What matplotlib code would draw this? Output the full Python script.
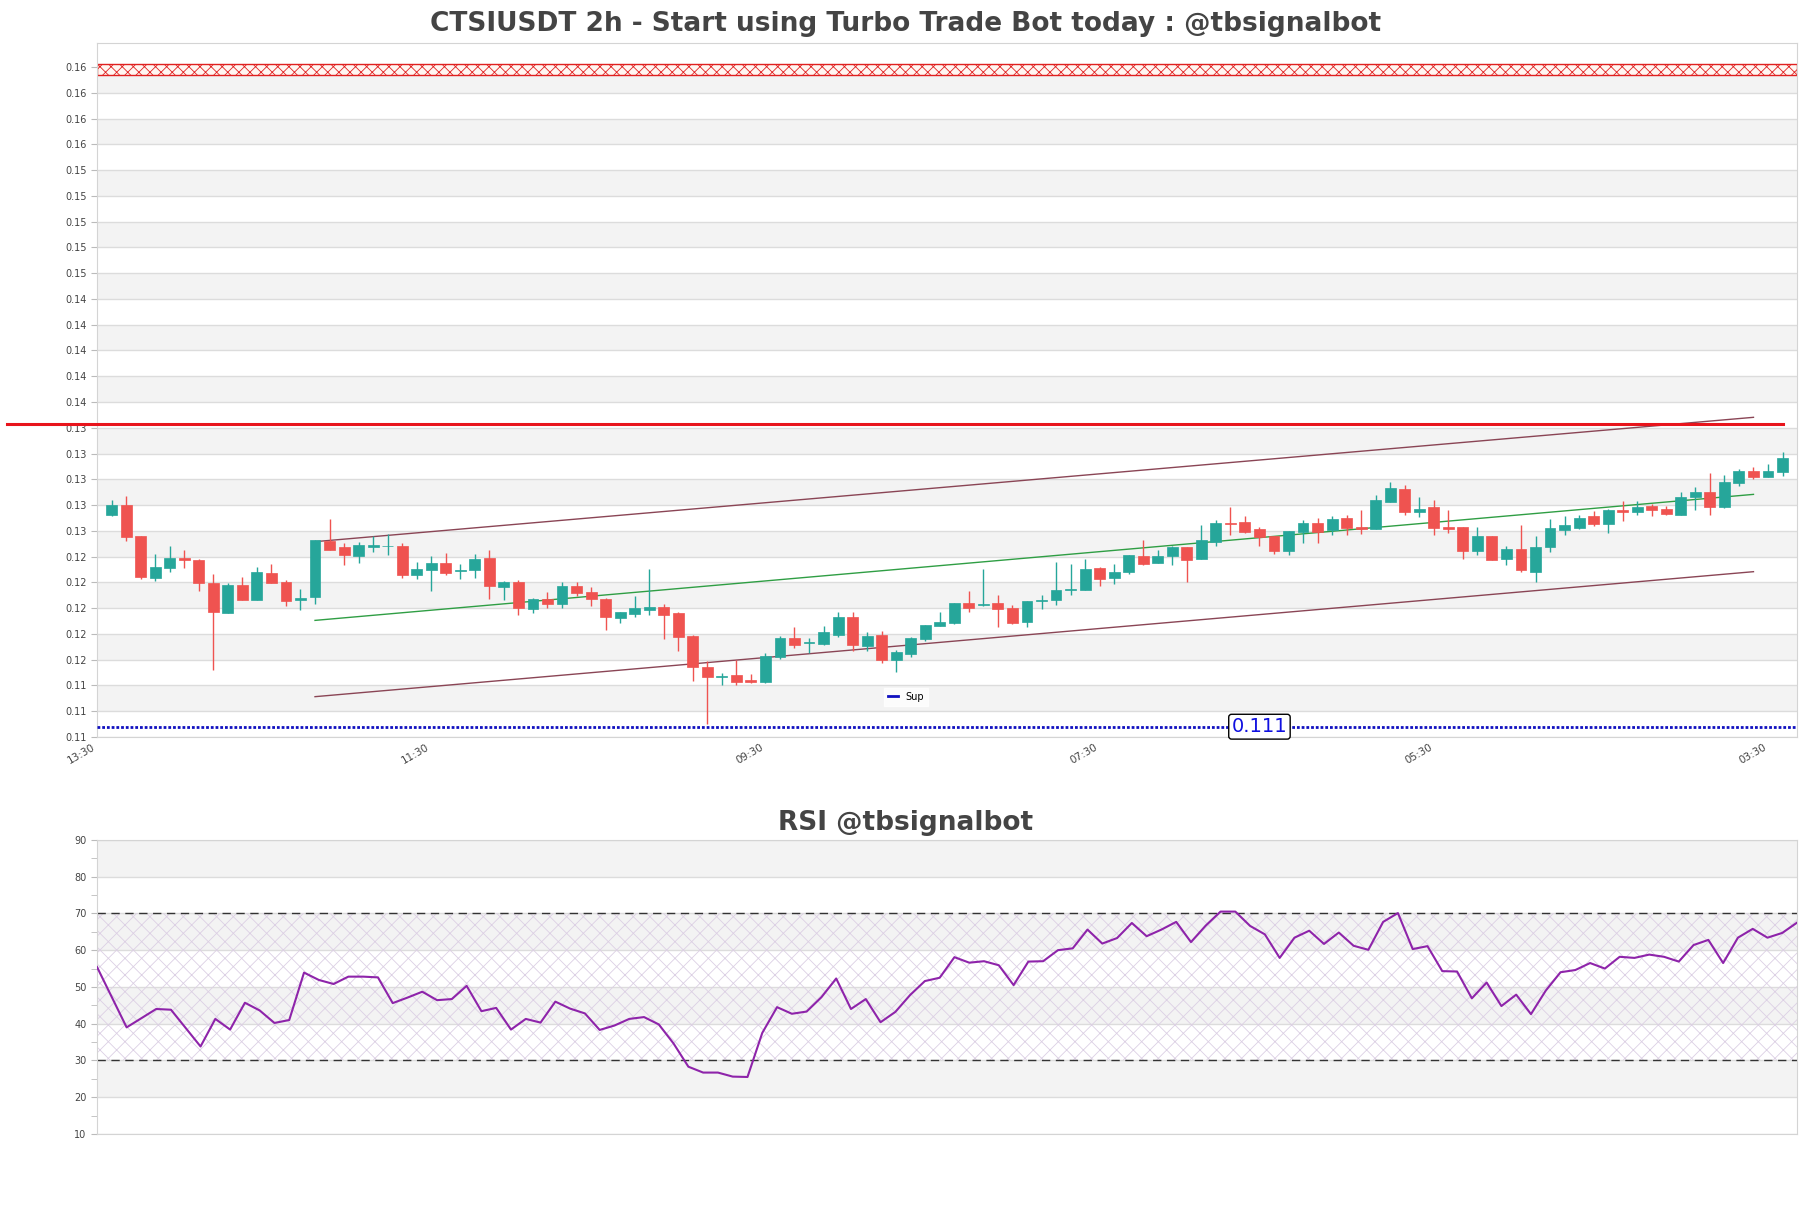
import numpy as np
from matplotlib import pyplot as plt
from matplotlib.patches import Rectangle

# candles, 2h
opens = [0.12743, 0.12818, 0.12577, 0.12257, 0.12334, 0.12407, 0.12394, 0.12215, 0.11985, 0.12200,
         0.12086, 0.12293, 0.12223, 0.12081, 0.12109, 0.12539, 0.12492, 0.12427, 0.12497, 0.12500,
         0.12502, 0.12280, 0.12319, 0.12370, 0.12311, 0.12319, 0.12407, 0.12187, 0.12223, 0.12013,
         0.12091, 0.12052, 0.12192, 0.12145, 0.12091, 0.11946, 0.11977, 0.12008, 0.12029, 0.11982,
         0.11806, 0.11563, 0.11486, 0.11501, 0.11462, 0.11449, 0.11644, 0.11788, 0.11750, 0.11744,
         0.11814, 0.11951, 0.11726, 0.11812, 0.11618, 0.11667, 0.11781, 0.11884, 0.11905, 0.12060,
         0.12044, 0.12060, 0.12021, 0.11913, 0.12076, 0.12086, 0.12164, 0.12164, 0.12332, 0.12257,
         0.12301, 0.12425, 0.12373, 0.12427, 0.12497, 0.12404, 0.12536, 0.12683, 0.12689, 0.12634,
         0.12580, 0.12466, 0.12611, 0.12683, 0.12629, 0.12720, 0.12650, 0.12632, 0.12846, 0.12945,
         0.12769, 0.12805, 0.12650, 0.12650, 0.12466, 0.12580, 0.12404, 0.12479, 0.12301, 0.12497,
         0.12629, 0.12645, 0.12735, 0.12676, 0.12782, 0.12769, 0.12813, 0.12787, 0.12746, 0.12883,
         0.12921, 0.12805, 0.12994, 0.13084, 0.13040, 0.13079]
highs = [0.12857, 0.12890, 0.12577, 0.12438, 0.12500, 0.12469, 0.12399, 0.12282, 0.12213, 0.12259,
         0.12337, 0.12360, 0.12239, 0.12169, 0.12549, 0.12709, 0.12523, 0.12533, 0.12577, 0.12593,
         0.12523, 0.12376, 0.12422, 0.12448, 0.12360, 0.12438, 0.12471, 0.12233, 0.12239, 0.12101,
         0.12143, 0.12223, 0.12223, 0.12184, 0.12101, 0.11990, 0.12114, 0.12324, 0.12050, 0.11993,
         0.11814, 0.11607, 0.11519, 0.11618, 0.11509, 0.11675, 0.11804, 0.11871, 0.11786, 0.11882,
         0.11990, 0.11988, 0.11832, 0.11843, 0.11695, 0.11799, 0.11889, 0.11990, 0.12060, 0.12153,
         0.12324, 0.12125, 0.12042, 0.12076, 0.12122, 0.12376, 0.12363, 0.12399, 0.12337, 0.12360,
         0.12433, 0.12549, 0.12471, 0.12502, 0.12497, 0.12663, 0.12704, 0.12805, 0.12735, 0.12647,
         0.12580, 0.12619, 0.12704, 0.12720, 0.12733, 0.12740, 0.12782, 0.12896, 0.12999, 0.12973,
         0.12880, 0.12857, 0.12782, 0.12650, 0.12650, 0.12580, 0.12502, 0.12663, 0.12580, 0.12712,
         0.12733, 0.12740, 0.12774, 0.12792, 0.12852, 0.12849, 0.12828, 0.12815, 0.12921, 0.12958,
         0.13066, 0.13051, 0.13097, 0.13113, 0.13139, 0.13232]
lows = [0.12735, 0.12544, 0.12249, 0.12233, 0.12303, 0.12334, 0.12156, 0.11540, 0.11985, 0.12081,
        0.12081, 0.12218, 0.12039, 0.12008, 0.12055, 0.12474, 0.12358, 0.12373, 0.12458, 0.12433,
        0.12257, 0.12246, 0.12156, 0.12280, 0.12246, 0.12254, 0.12094, 0.12083, 0.11967, 0.11985,
        0.12024, 0.12024, 0.12114, 0.12037, 0.11850, 0.11907, 0.11954, 0.11969, 0.11781, 0.11690,
        0.11455, 0.11121, 0.11424, 0.11424, 0.11442, 0.11437, 0.11628, 0.11713, 0.11669, 0.11731,
        0.11799, 0.11690, 0.11687, 0.11597, 0.11524, 0.11638, 0.11768, 0.11884, 0.11900, 0.11993,
        0.12039, 0.11876, 0.11900, 0.11876, 0.12016, 0.12047, 0.12125, 0.12164, 0.12194, 0.12210,
        0.12288, 0.12358, 0.12373, 0.12358, 0.12226, 0.12404, 0.12505, 0.12588, 0.12601, 0.12505,
        0.12443, 0.12433, 0.12528, 0.12523, 0.12590, 0.12590, 0.12598, 0.12632, 0.12846, 0.12746,
        0.12730, 0.12590, 0.12606, 0.12404, 0.12435, 0.12391, 0.12358, 0.12303, 0.12226, 0.12458,
        0.12588, 0.12637, 0.12658, 0.12606, 0.12699, 0.12746, 0.12735, 0.12746, 0.12746, 0.12782,
        0.12746, 0.12800, 0.12968, 0.13022, 0.13040, 0.13046]
closes = [0.12818, 0.12575, 0.12262, 0.12339, 0.12409, 0.12396, 0.12215, 0.11993, 0.12200, 0.12086,
          0.12301, 0.12218, 0.12078, 0.12099, 0.12549, 0.12474, 0.12433, 0.12508, 0.12510, 0.12505,
          0.12280, 0.12324, 0.12368, 0.12293, 0.12316, 0.12401, 0.12194, 0.12223, 0.12024, 0.12091,
          0.12052, 0.12192, 0.12140, 0.12094, 0.11954, 0.11990, 0.12021, 0.12029, 0.11967, 0.11799,
          0.11566, 0.11488, 0.11491, 0.11449, 0.11447, 0.11649, 0.11788, 0.11737, 0.11755, 0.11835,
          0.11951, 0.11737, 0.11804, 0.11618, 0.11680, 0.11786, 0.11889, 0.11913, 0.12060, 0.12024,
          0.12050, 0.12016, 0.11905, 0.12076, 0.12081, 0.12161, 0.12169, 0.12324, 0.12249, 0.12301,
          0.12433, 0.12365, 0.12425, 0.12497, 0.12396, 0.12549, 0.12681, 0.12676, 0.12614, 0.12575,
          0.12466, 0.12619, 0.12683, 0.12614, 0.12712, 0.12645, 0.12632, 0.12859, 0.12953, 0.12769,
          0.12790, 0.12645, 0.12637, 0.12466, 0.12580, 0.12396, 0.12479, 0.12316, 0.12495, 0.12642,
          0.12663, 0.12720, 0.12676, 0.12782, 0.12769, 0.12802, 0.12784, 0.12753, 0.12883, 0.12919,
          0.12808, 0.12999, 0.13084, 0.13038, 0.13084, 0.13185]

rsi = [55.4, 47.2, 39.0, 41.5, 44.0, 43.8, 38.8, 33.8, 41.3, 38.4,
       45.7, 43.6, 40.2, 41.0, 53.9, 51.9, 50.8, 52.8, 52.8, 52.6,
       45.6, 47.1, 48.7, 46.4, 46.7, 50.3, 43.4, 44.3, 38.4, 41.3,
       40.3, 46.0, 44.1, 42.8, 38.3, 39.5, 41.3, 41.8, 39.8, 34.6,
       28.3, 26.7, 26.7, 25.6, 25.5, 37.5, 44.5, 42.7, 43.3, 47.2,
       52.3, 44.0, 46.7, 40.4, 43.2, 47.8, 51.6, 52.5, 58.1, 56.6,
       57.0, 55.9, 50.5, 56.9, 57.0, 60.0, 60.5, 65.6, 61.8, 63.3,
       67.4, 63.8, 65.6, 67.7, 62.2, 66.7, 70.5, 70.5, 66.6, 64.3,
       57.9, 63.4, 65.3, 61.7, 64.8, 61.2, 60.1, 67.7, 70.1, 60.3,
       61.1, 54.3, 54.2, 46.9, 51.2, 44.8, 47.9, 42.6, 49.0, 54.0,
       54.6, 56.5, 55.0, 58.2, 57.9, 58.8, 58.2, 56.9, 61.4, 62.8,
       56.5, 63.4, 65.8, 63.4, 64.7, 67.5]

time_labels = ['13:30', '11:30', '09:30', '07:30', '05:30', '03:30']
time_label_pos = [-1, 22, 45, 68, 91, 114]

# trend channel (start / end candle, price)
channel_x = [14, 113]
channel_upper = [0.12536, 0.13501]
channel_mid = [0.11925, 0.12903]
channel_lower = [0.11333, 0.12303]

resistance = 0.1345
support = 0.1110
top_zone = (0.1616, 0.16243)

up_color = '#26a69a'
down_color = '#ef5350'
stripe = '#f3f3f3'
grid_color = '#dcdcdc'
text_color = '#444444'

plt.rcParams['hatch.linewidth'] = 0.6

fig = plt.figure(figsize=(18.11, 12.08), dpi=100)
ax = fig.add_axes([0.0536, 0.3899, 0.9387, 0.5745])
ax2 = fig.add_axes([0.0536, 0.0613, 0.9387, 0.2434])

# ---- price panel
y_ticks = 0.1102 + 0.002 * np.arange(27)
ax.set_ylim(0.1102, 0.16406)
ax.set_xlim(-1, 116)
for k in range(1, len(y_ticks) - 1, 2):
    ax.axhspan(y_ticks[k], y_ticks[k + 1], color=stripe, lw=0, zorder=0)
for t in y_ticks:
    ax.axhline(t, color=grid_color, lw=1, zorder=0.5)

ax.axhspan(top_zone[0], top_zone[1], facecolor='#fff6f2', edgecolor='#e02020',
           hatch='xxx', lw=1, zorder=1)

x = np.arange(len(opens))
width = 0.75
for i in x:
    o, h, l, c = opens[i], highs[i], lows[i], closes[i]
    col = up_color if c >= o else down_color
    ax.vlines(i, l, h, color=col, lw=1, zorder=3)
    body = max(abs(c - o), 0.00004)
    ax.add_patch(Rectangle((i - width / 2, min(o, c)), width, body,
                           facecolor=col, edgecolor=col, lw=0.5, zorder=4))

ax.plot(channel_x, channel_upper, color='#8a4555', lw=1, zorder=2)
ax.plot(channel_x, channel_lower, color='#8a4555', lw=1, zorder=2)
ax.plot(channel_x, channel_mid, color='#2f9e44', lw=1, zorder=2)

ax.plot([-7.2, 115], [resistance, resistance], color='#e8141c', lw=2.2,
        clip_on=False, zorder=5)
ax.axhline(support, color='#1010c0', lw=2, ls=(0, (1, 0.7)), zorder=5, label='Sup')
ax.text(79, support, '%.3f' % support, color='#1010e0', fontsize=14,
        ha='center', va='center', zorder=6,
        bbox=dict(boxstyle='round,pad=0.15', fc='white', ec='black', lw=1))

leg = ax.legend(loc='center', bbox_to_anchor=(0.476, 0.058), fontsize=7,
                handlelength=1, frameon=True, fancybox=False)
leg.get_frame().set_edgecolor('white')
leg.get_frame().set_facecolor('white')
for line in leg.get_lines():
    line.set_linestyle('-')

ax.set_yticks(y_ticks)
ax.set_yticklabels(['%.2f' % t for t in y_ticks], fontsize=7, color=text_color)
ax.set_xticks(time_label_pos)
ax.set_xticklabels(time_labels, rotation=30, ha='right', fontsize=7.5, color=text_color)
ax.tick_params(axis='y', length=4, color='#bbbbbb')
ax.tick_params(axis='x', length=0)
for s in ax.spines.values():
    s.set_color('#d4d4d4')

fig.text(0.5, 0.980, 'CTSIUSDT 2h - Start using Turbo Trade Bot today : @tbsignalbot',
         ha='center', va='center', fontsize=19, fontweight='bold', color=text_color)

# ---- RSI panel
ax2.set_xlim(0, len(rsi) - 1)
ax2.set_ylim(10, 90)
for lo in [20, 40, 60, 80]:
    ax2.axhspan(lo, lo + 10, color=stripe, lw=0, zorder=0)
for t in range(10, 91, 10):
    ax2.axhline(t, color=grid_color, lw=1, zorder=0.5)
ax2.axhspan(30, 70, facecolor='none', edgecolor='#dcd0e4', hatch='xx', lw=0, zorder=1)
ax2.axhline(30, color='#333333', lw=1, ls=(0, (6, 4)), zorder=2)
ax2.axhline(70, color='#333333', lw=1, ls=(0, (6, 4)), zorder=2)
ax2.plot(np.arange(len(rsi)), rsi, color='#8e24aa', lw=1.5, zorder=3)

ax2.set_yticks(range(10, 91, 10))
ax2.set_yticks(range(15, 90, 10), minor=True)
ax2.set_yticklabels([str(t) for t in range(10, 91, 10)], fontsize=7, color=text_color)
ax2.set_xticks([])
ax2.tick_params(axis='y', which='both', length=4, color='#bbbbbb')
for s in ax2.spines.values():
    s.set_color('#d4d4d4')

fig.text(0.5, 0.319, 'RSI @tbsignalbot', ha='center', va='center',
         fontsize=19, fontweight='bold', color=text_color)

fig.savefig('out.png', dpi=100)
